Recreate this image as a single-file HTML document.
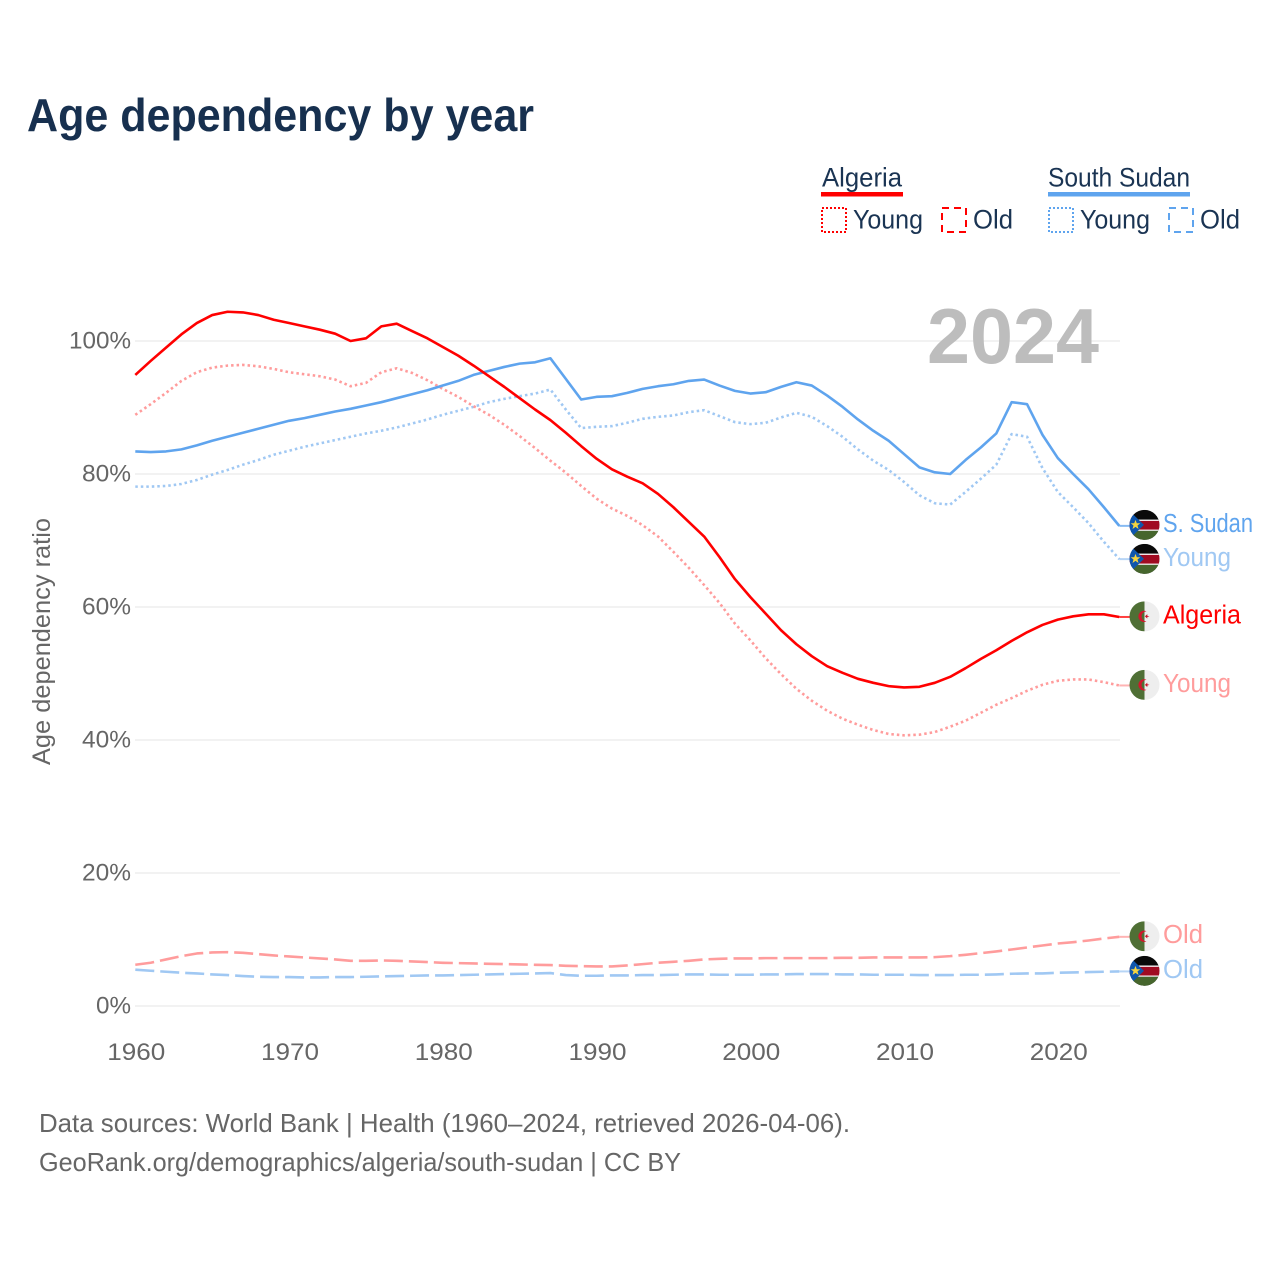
<!DOCTYPE html>
<html lang="en">
<head>
<meta charset="utf-8">
<title>Age dependency by year</title>
<style>
html,body{margin:0;padding:0;background:#fff}
svg{display:block}
text{font-family:"Liberation Sans",sans-serif}
</style>
</head>
<body>
<svg id="chart" xmlns="http://www.w3.org/2000/svg" width="1280" height="1280" viewBox="0 0 1280 1280">
  <rect width="1280" height="1280" fill="#fff"/>
  <text x="27" y="131" font-size="46" font-weight="700" fill="#17304f" textLength="507" lengthAdjust="spacingAndGlyphs">Age dependency by year</text>

  <g>
    <text x="822" y="186.500" font-size="27" fill="#1a3453" textLength="80" lengthAdjust="spacingAndGlyphs">Algeria</text>
    <rect x="821" y="192" width="82" height="4.5" fill="#ff0000"/>
    <rect x="822" y="208" width="24" height="24" fill="none" stroke="#ff0000" stroke-width="2" stroke-dasharray="2 2"/>
    <text x="853" y="228.500" font-size="27" fill="#1a3453" textLength="70" lengthAdjust="spacingAndGlyphs">Young</text>
    <rect x="942" y="208" width="24" height="24" fill="none" stroke="#ff0000" stroke-width="2" stroke-dasharray="7 5"/>
    <text x="973" y="228.500" font-size="27" fill="#1a3453" textLength="40" lengthAdjust="spacingAndGlyphs">Old</text>

    <text x="1048" y="186.500" font-size="27" fill="#1a3453" textLength="142" lengthAdjust="spacingAndGlyphs">South Sudan</text>
    <rect x="1048" y="192" width="142" height="4.5" fill="#5fa4ee"/>
    <rect x="1049" y="208" width="24" height="24" fill="none" stroke="#5fa4ee" stroke-width="2" stroke-dasharray="2 2"/>
    <text x="1080" y="228.500" font-size="27" fill="#1a3453" textLength="70" lengthAdjust="spacingAndGlyphs">Young</text>
    <rect x="1169" y="208" width="24" height="24" fill="none" stroke="#5fa4ee" stroke-width="2" stroke-dasharray="7 5"/>
    <text x="1200" y="228.500" font-size="27" fill="#1a3453" textLength="40" lengthAdjust="spacingAndGlyphs">Old</text>
  </g>

  <g id="grid"></g>
  <g id="yticks"></g>
  <g id="xticks"></g>

  <text transform="translate(50,765) rotate(-90)" x="0" y="0" font-size="25" fill="#666" textLength="247" lengthAdjust="spacingAndGlyphs">Age dependency ratio</text>
  <text x="927" y="363" font-size="78" font-weight="700" fill="#bdbdbd" textLength="172" lengthAdjust="spacingAndGlyphs">2024</text>

  <g id="series"></g>
  <g id="endlabels"></g>

  <text x="39" y="1132" font-size="26" fill="#666" textLength="811" lengthAdjust="spacingAndGlyphs">Data sources: World Bank | Health (1960–2024, retrieved 2026-04-06).</text>
  <text x="39" y="1171" font-size="26" fill="#666" textLength="642" lengthAdjust="spacingAndGlyphs">GeoRank.org/demographics/algeria/south-sudan | CC BY</text>
</svg>

<script>
const startYear = 1960;
const xTickYears = [1960, 1970, 1980, 1990, 2000, 2010, 2020];
const yTickValues = [0, 20, 40, 60, 80, 100];

const algeriaTotal = [94.9,97,99,101,102.7,103.9,104.4,104.3,103.9,103.2,
  102.7,102.2,101.7,101.1,100,100.4,102.2,102.6,101.5,100.4,
  99.1,97.8,96.3,94.7,93.1,91.4,89.7,88.1,86.2,84.2,
  82.3,80.7,79.6,78.6,77,75,72.8,70.6,67.5,64.2,
  61.5,59,56.5,54.4,52.6,51.1,50.1,49.2,48.6,48.1,
  47.9,48,48.6,49.5,50.8,52.2,53.5,54.9,56.2,57.3,
  58.1,58.6,58.9,58.9,58.5];
const algeriaYoung = [88.9,90.5,92.2,94,95.3,96,96.3,96.4,96.2,95.8,
  95.3,95,94.7,94.2,93.2,93.7,95.3,95.9,95.2,94.1,
  92.8,91.6,90.2,88.9,87.4,85.7,83.9,82,80.2,78.2,
  76.3,74.8,73.7,72.3,70.6,68.3,65.9,63.3,60.6,57.5,
  55,52.3,49.9,47.7,45.9,44.4,43.2,42.3,41.5,40.9,
  40.7,40.8,41.2,42,42.9,44.1,45.3,46.3,47.4,48.3,
  48.9,49.1,49.1,48.7,48.2];
const algeriaOld = [6.2,6.5,7,7.5,7.9,8.05,8.1,8,7.8,7.6,
  7.45,7.3,7.15,7,6.8,6.8,6.85,6.8,6.7,6.6,
  6.5,6.45,6.4,6.35,6.3,6.25,6.2,6.15,6.05,6,
  5.95,5.95,6.1,6.3,6.5,6.65,6.8,7,7.1,7.15,
  7.15,7.2,7.2,7.2,7.2,7.2,7.25,7.25,7.3,7.3,
  7.3,7.3,7.35,7.5,7.7,7.95,8.2,8.5,8.8,9.1,
  9.4,9.6,9.85,10.15,10.4];
const sudanTotal = [83.4,83.3,83.4,83.7,84.3,85,85.6,86.2,86.8,87.4,
  88,88.4,88.9,89.4,89.8,90.3,90.8,91.4,92,92.6,
  93.3,94,94.9,95.5,96.1,96.6,96.8,97.4,94.3,91.2,
  91.6,91.7,92.2,92.8,93.2,93.5,94,94.2,93.3,92.5,
  92.1,92.3,93.1,93.8,93.3,91.8,90.1,88.2,86.5,85,
  83,81,80.25,80,82.1,84,86.1,90.8,90.5,85.9,
  82.4,80,77.7,75,72.2];
const sudanYoung = [78.1,78.1,78.2,78.5,79.1,79.9,80.6,81.4,82.1,82.9,
  83.5,84.1,84.6,85.1,85.6,86.1,86.5,87,87.6,88.2,
  88.9,89.5,90.1,90.8,91.3,91.7,92.1,92.7,89.7,86.9,
  87.1,87.2,87.7,88.3,88.6,88.8,89.3,89.6,88.7,87.8,
  87.5,87.7,88.5,89.2,88.6,87.2,85.6,83.7,82,80.6,
  78.8,76.8,75.6,75.4,77.3,79.3,81.4,86,85.6,80.9,
  77.3,75,72.6,69.8,67.2];
const sudanOld = [5.46,5.3,5.15,5,4.9,4.75,4.65,4.5,4.4,4.35,
  4.35,4.3,4.3,4.35,4.35,4.4,4.45,4.5,4.55,4.6,
  4.6,4.65,4.7,4.75,4.8,4.85,4.9,4.95,4.65,4.55,
  4.55,4.6,4.6,4.65,4.65,4.7,4.75,4.75,4.7,4.7,
  4.7,4.75,4.75,4.8,4.8,4.8,4.75,4.75,4.7,4.7,
  4.7,4.65,4.65,4.65,4.7,4.7,4.75,4.85,4.9,4.9,
  5,5.05,5.1,5.15,5.2];

const NS = 'http://www.w3.org/2000/svg';
const xScale = function (year) { return 135.3 + (year - 1960) * 15.375; };
const yScale = function (v) { return 1006 - v * 6.65; };

function make(tag, attrs, parent) {
  const el = document.createElementNS(NS, tag);
  for (const k in attrs) el.setAttribute(k, attrs[k]);
  parent.appendChild(el);
  return el;
}

const gridG = document.getElementById('grid');
const yG = document.getElementById('yticks');
const xG = document.getElementById('xticks');
const seriesG = document.getElementById('series');
const labelsG = document.getElementById('endlabels');

yTickValues.forEach(function (v) {
  const line = make('line', {x1: 135, x2: 1120, y1: yScale(v), y2: yScale(v), stroke: '#eeeeee', 'stroke-width': 1.5}, gridG);
  
  
  const t = make('text', {x: 131, y: yScale(v) + 7.5, 'font-size': 24.5, fill: '#666', 'text-anchor': 'end', lengthAdjust: 'spacingAndGlyphs'}, yG);
  
  
  t.textContent = v + '%';
  t.setAttribute('textLength', v === 100 ? 62 : (v === 0 ? 35 : 49));
});

xTickYears.forEach(function (yr) {
  const t = make('text', {x: xScale(yr) + 1, y: 1060, 'font-size': 24.5, fill: '#666', 'text-anchor': 'middle', textLength: 58, lengthAdjust: 'spacingAndGlyphs'}, xG);
  
  
  t.textContent = yr;
});

const seriesList = [
  {values: sudanOld, name: 'south-sudan-old', color: '#a0c8f3', dash: '19 6', label: 'Old', flag: 'ss', width: 40},
  {values: algeriaOld, name: 'algeria-old', color: '#ff9c9c', dash: '19 6', label: 'Old', flag: 'dz', width: 40},
  {values: sudanYoung, name: 'south-sudan-young', color: '#a0c8f3', dash: '2.5 3', label: 'Young', flag: 'ss', width: 68},
  {values: algeriaYoung, name: 'algeria-young', color: '#ff9c9c', dash: '2.5 3', label: 'Young', flag: 'dz', width: 68},
  {values: sudanTotal, name: 'south-sudan-total', color: '#5fa4ee', dash: '', label: 'S. Sudan', flag: 'ss', width: 90},
  {values: algeriaTotal, name: 'algeria-total', color: '#ff0000', dash: '', label: 'Algeria', flag: 'dz', width: 78}
];

seriesList.forEach(function (s) {
  const pts = s.values.map(function (v, i) { return xScale(startYear + i).toFixed(2) + ',' + yScale(v).toFixed(2); }).join(' ');
  const attrs = {points: pts, fill: 'none', stroke: s.color, 'stroke-width': 2.6, 'stroke-linejoin': 'round'};
  if (s.dash) attrs['stroke-dasharray'] = s.dash;
  const line = make('polyline', attrs, seriesG);
  
  
});

/* end labels: start at the last value, then dodge so flags never overlap */
const placed = seriesList.map(function (s) {
  const last = yScale(s.values[s.values.length - 1]);
  return {s: s, last: last, y: last - 0.6};
}).sort(function (a, b) { return a.y - b.y; });
for (let i = 1; i < placed.length; i++) {
  const gap = placed[i].y - placed[i - 1].y;
  if (gap < 34) {
    const push = (34 - gap) / 2;
    placed[i - 1].y -= push;
    placed[i].y += push;
  }
}

let clipCount = 0;
function drawFlag(kind, cy, parent) {
  const cx = 1144.5, r = 15;
  clipCount += 1;
  const id = 'flag-clip-' + clipCount;
  const cp = make('clipPath', {id: id}, parent);
  make('circle', {cx: cx, cy: cy, r: r}, cp);
  const g = make('g', {'clip-path': 'url(#' + id + ')'}, parent);
  const L = cx - r, W = 2 * r, T = cy - r;
  if (kind === 'dz') {
    make('rect', {x: L, y: T, width: r, height: W, fill: '#4f6f35'}, g);
    make('rect', {x: cx, y: T, width: r, height: W, fill: '#eeeeee'}, g);
    make('path', {d: 'M' + (cx + 2) + ' ' + (cy - 5) + 'A5.6 5.6 0 1 0 ' + (cx + 2) + ' ' + (cy + 5) + 'A4.3 4.3 0 1 1 ' + (cx + 2) + ' ' + (cy - 5) + 'Z', fill: '#d2162c'}, g);
    make('polygon', {points: (cx + 0.4) + ',' + cy + ' ' + (cx + 2.8) + ',' + (cy - 2.2) + ' ' + (cx + 2.8) + ',' + (cy - 0.6) + ' ' + (cx + 5) + ',' + cy + ' ' + (cx + 2.8) + ',' + (cy + 0.6) + ' ' + (cx + 2.8) + ',' + (cy + 2.2), fill: '#d2162c'}, g);
  } else {
    make('rect', {x: L, y: T, width: W, height: W, fill: '#0a0a0a'}, g);
    make('rect', {x: L, y: cy - 5.3, width: W, height: 11.3, fill: '#ffffff'}, g);
    make('rect', {x: L, y: cy - 4, width: W, height: 8.7, fill: '#a00b22'}, g);
    make('rect', {x: L, y: cy + 6, width: W, height: 9, fill: '#46662d'}, g);
    make('polygon', {points: (L - 1) + ',' + T + ' ' + (L + 14.500) + ',' + cy + ' ' + (L - 1) + ',' + (T + W), fill: '#0f56ad'}, g);
    make('polygon', {points: [[0, -5], [1.3, -1.6], [4.8, -1.6], [2, .6], [3, 4.100], [0, 2], [-3, 4.100], [-2, .6], [-4.8, -1.6], [-1.3, -1.6]].map(function (p) { return (L + 6 + p[0]) + ',' + (cy + p[1]); }).join(' '), fill: '#f5d440'}, g);
  }
  return g;
}

placed.forEach(function (p) {
  const s = p.s;
  const endX = xScale(startYear + s.values.length - 1);
  const conn = make('line', {x1: endX, x2: 1130, y1: p.last, y2: p.last, stroke: s.color, 'stroke-width': 2, opacity: 0.75}, labelsG);
  
  
  const flag = drawFlag(s.flag, p.y, labelsG);
  
  
  const t = make('text', {x: 1163, y: p.y + 7, 'font-size': 25.5, fill: s.color, textLength: s.width, lengthAdjust: 'spacingAndGlyphs'}, labelsG);
  
  
  t.textContent = s.label;
});
</script>
</body>
</html>
